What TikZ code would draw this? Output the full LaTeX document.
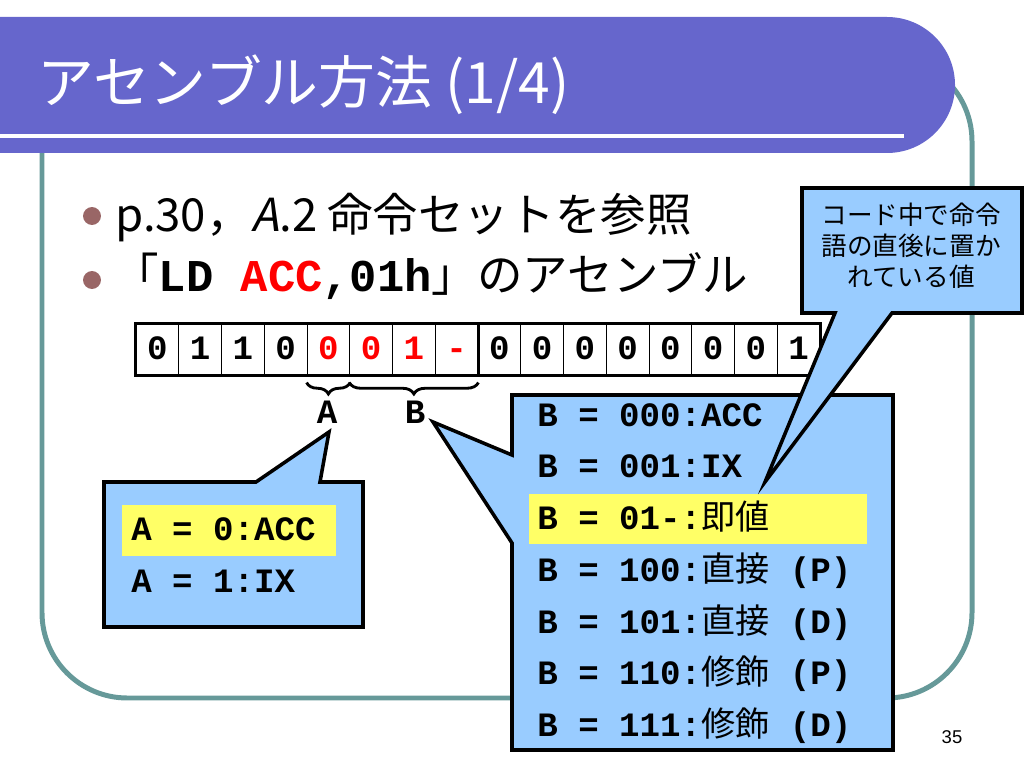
\documentclass[tikz,border=0pt]{standalone}
\usepackage{fontspec}
\setmainfont{Noto Sans CJK JP}
\setmonofont{Liberation Mono}
\newfontfamily\jpslant{Noto Sans CJK JP}[FakeSlant=0.2]
\newfontfamily\pagenumfont{Liberation Sans}
\usetikzlibrary{decorations.pathreplacing}
\definecolor{headblue}{HTML}{6666CC}
\definecolor{frameteal}{HTML}{669999}
\definecolor{callblue}{HTML}{99CCFF}
\definecolor{hiyellow}{HTML}{FFFF66}
\definecolor{bulletmauve}{HTML}{996666}
\newcommand{\monobig}{\fontsize{24}{28}\selectfont\ttfamily\bfseries}
\newcommand{\kanji}[1]{{\rmfamily\mdseries #1}}

\begin{document}
\begin{tikzpicture}[x=0.703125pt,y=-0.703125pt,
    callout/.style={draw=black,fill=callblue,line width=2.5pt,line join=miter},
    bitcell/.style={draw,line width=0.6pt,minimum width=30.06pt,minimum height=35.9pt,inner sep=0pt,
      text height=14pt,text depth=0pt,font=\monobig},
    bline/.style={anchor=base west,inner sep=0pt,font=\monobig},
    bigline/.style={anchor=base west,inner sep=0pt,font=\fontsize{32}{38}\selectfont},
    brace/.style={decorate,decoration={brace,mirror,amplitude=8pt},line width=2pt}]
\useasboundingbox (0,0) rectangle (1024,768);
% slide frame and title bar
\draw[frameteal,line width=3.5pt,rounded corners=60pt] (42,56) rectangle (972,698);
\fill[headblue,rounded corners=47.8pt] (-80,17) rectangle (955,153);
\draw[white,line width=3pt] (0,136) -- (904,136);
\node[anchor=west,inner sep=0pt,text=white,font=\fontsize{40}{48}\selectfont] (title) at (37,85) {アセンブル方法 (1/4)};
% bullets
\fill[bulletmauve] (92,216) circle (6.3pt) (92,280) circle (6.3pt);
\node[bigline] (ref) at (115,232) {p.30，{\jpslant A}.2 命令セットを参照};
\node[bigline] (asm) at (113,292) {「{\ttfamily\bfseries LD \textcolor{red}{ACC},01h}」のアセンブル};
% instruction bits
\foreach \b/\c [count=\i] in {0/black,1/black,1/black,0/black,0/red,0/red,1/red,-/red,
                               0/black,0/black,0/black,0/black,0/black,0/black,0/black,1/black}
  \node[bitcell,text=\c] (c\i) at ({136+42.75*(\i-0.5)},349.5) {\b};
\draw[line width=2pt] (c1.north west) rectangle (c16.south east);
\draw[line width=1.5pt] (c8.north east) -- (c8.south east);
\draw[brace] ([yshift=-5pt]c5.south west) -- ([yshift=-5pt]c5.south east);
\draw[brace] ([yshift=-5pt]c6.south west) -- ([yshift=-5pt]c8.south east);
\node[font=\monobig,inner sep=0pt] (labA) at (327,412) {A};
\node[font=\monobig,inner sep=0pt] (labB) at (415,412) {B};
% callout for A
\draw[callout] (104,482) -- (256,482) -- (329,432) -- (320,482) -- (363,482)
  -- (363,627) -- (104,627) -- cycle;
\fill[hiyellow] (122,505) rectangle (336,556);
\node[bline] (a0) at (131,540) {A = 0:ACC};
\node[bline] (a1) at (131,592) {A = 1:IX};
% callout for B
\draw[callout] (512,395) -- (893,395) -- (893,750) -- (512,750) -- (512,543)
  -- (433,422) -- (512,455) -- cycle;
\fill[hiyellow] (529,494) rectangle (867,544);
\node[bline] (b0) at (537,426) {B = 000:ACC};
\node[bline] (b1) at (537,477) {B = 001:IX};
\node[bline] (b2) at (537,529) {B = 01-:\kanji{即値}};
\node[bline] (b3) at (537,581) {B = 100:\kanji{直接} (P)};
\node[bline] (b4) at (537,633) {B = 101:\kanji{直接} (D)};
\node[bline] (b5) at (537,684) {B = 110:\kanji{修飾} (P)};
\node[bline] (b6) at (537,736) {B = 111:\kanji{修飾} (D)};
% note on the immediate value
\draw[callout] (802,188) -- (1022,188) -- (1022,313) -- (892,313) -- (765,482)
  -- (835,313) -- (802,313) -- cycle;
\node[align=center,inner sep=0pt,font=\fontsize{18}{21.8}\selectfont] (note) at (911,246)
  {コード中で命令\\語の直後に置か\\れている値};
\node[font=\pagenumfont\fontsize{13}{15}\selectfont] (pagenum) at (952,737) {35};
\end{tikzpicture}
\end{document}
